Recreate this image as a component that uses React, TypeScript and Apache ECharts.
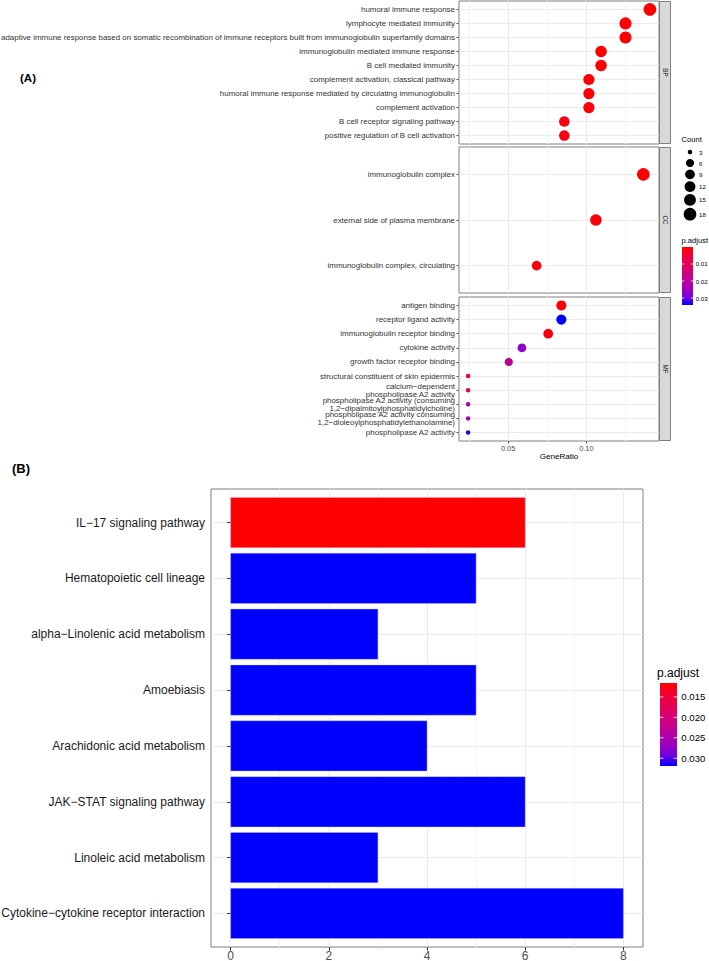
import React, { useEffect, useRef } from 'react';
import * as echarts from 'echarts';

// ---------------- DATA ----------------
const bpTerms = [
  'humoral immune response',
  'lymphocyte mediated immunity',
  'adaptive immune response based on somatic recombination of immune receptors built from immunoglobulin superfamily domains',
  'immunoglobulin mediated immune response',
  'B cell mediated immunity',
  'complement activation, classical pathway',
  'humoral immune response mediated by circulating immunoglobulin',
  'complement activation',
  'B cell receptor signaling pathway',
  'positive regulation of B cell activation',
];
const bpRatio = [0.1406, 0.125, 0.125, 0.1094, 0.1094, 0.1016, 0.1016, 0.1016, 0.0859, 0.0859];
const bpCount = [18, 16, 16, 14, 14, 13, 13, 13, 11, 11];
const bpPadj = [0.00001, 0.0002, 0.0002, 0.0004, 0.0004, 0.0006, 0.0006, 0.0007, 0.0015, 0.0018];

const ccTerms = ['immunoglobulin complex', 'external side of plasma membrane', 'immunoglobulin complex, circulating'];
const ccRatio = [0.1364, 0.1061, 0.0682];
const ccCount = [18, 14, 9];
const ccPadj = [0.00002, 0.0012, 0.0008];

const mfTerms = [
  'antigen binding',
  'receptor ligand activity',
  'immunoglobulin receptor binding',
  'cytokine activity',
  'growth factor receptor binding',
  'structural constituent of skin epidermis',
  'calcium\u2212dependent\nphospholipase A2 activity',
  'phospholipase A2 activity (consuming\n1,2\u2212dipalmitoylphosphatidylcholine)',
  'phospholipase A2 activity consuming\n1,2\u2212dioleoylphosphatidylethanolamine)',
  'phospholipase A2 activity',
];
const mfRatio = [0.084, 0.084, 0.0756, 0.0588, 0.0504, 0.0244, 0.0244, 0.0244, 0.0244, 0.0244];
const mfCount = [10, 10, 9, 7, 6, 3, 3, 3, 3, 3];
const mfPadj = [0.0005, 0.0341, 0.0015, 0.0266, 0.019, 0.009, 0.009, 0.023, 0.023, 0.0325];

const facetLabels = ['BP', 'CC', 'MF'];
const geneRatioTicks = [0.05, 0.1];
const geneRatioMinor = [0.025, 0.075, 0.125];
const countBreaks = [3, 6, 9, 12, 15, 18];
const pAdjTicksA = [0.01, 0.02, 0.03];

const keggTerms = [
  'IL\u221217 signaling pathway',
  'Hematopoietic cell lineage',
  'alpha\u2212Linolenic acid metabolism',
  'Amoebiasis',
  'Arachidonic acid metabolism',
  'JAK\u2212STAT signaling pathway',
  'Linoleic acid metabolism',
  'Cytokine\u2212cytokine receptor interaction',
];
const keggCount = [6, 5, 3, 5, 4, 6, 3, 8];
const keggPadj = [0.0116, 0.0319, 0.0319, 0.0319, 0.0319, 0.0319, 0.0319, 0.0319];
const keggTicks = [0, 2, 4, 6, 8];
const keggMinor = [1, 3, 5, 7];
const pAdjTicksB = [0.015, 0.02, 0.025, 0.03];

// ---------------- STYLE / LAYOUT ----------------
const FONT = '"Liberation Sans", Arial, Helvetica, sans-serif';
const PALETTE = ['#FF0000', '#F30031', '#E7004F', '#D9006C', '#C90088', '#B400A5', '#9900C2', '#7100E0', '#0000FF'];
const MAJOR = '#EBEBEB';
const MINOR = '#F4F4F4';
const BORDER = '#7f7f7f';
const A_LEFT = 459;
const A_WIDTH = 200;
const STRIP_W = 11;
const aLayout = [
  { top: 1, height: 143 },
  { top: 147, height: 146 },
  { top: 297, height: 144 },
];
const B_BOX = { left: 211, top: 489, width: 432, height: 458 };

const panels = [
  { terms: bpTerms, ratio: bpRatio, count: bpCount, padj: bpPadj },
  { terms: ccTerms, ratio: ccRatio, count: ccCount, padj: ccPadj },
  { terms: mfTerms, ratio: mfRatio, count: mfCount, padj: mfPadj },
];

function buildOption() {
  const allRatio = [...bpRatio, ...ccRatio, ...mfRatio];
  const allCount = [...bpCount, ...ccCount, ...mfCount];
  const allPadj = [...bpPadj, ...ccPadj, ...mfPadj];
  const rMin = Math.min(...allRatio);
  const rMax = Math.max(...allRatio);
  const rPad = (rMax - rMin) * 0.05;
  const aXMin = rMin - rPad;
  const aXMax = rMax + rPad;
  const cMin = Math.min(...allCount);
  const cMax = Math.max(...allCount);
  const sizeOf = (c: number) => 4.5 + 8.2 * Math.sqrt((c - cMin) / (cMax - cMin));
  const pMinA = Math.min(...allPadj);
  const pMaxA = Math.max(...allPadj);
  const pMinB = Math.min(...keggPadj);
  const pMaxB = Math.max(...keggPadj);
  const bMax = Math.max(...keggCount);

  const grids: any[] = aLayout.map((l) => ({
    left: A_LEFT, top: l.top, width: A_WIDTH, height: l.height,
    show: true, borderColor: BORDER, borderWidth: 1, backgroundColor: '#fff',
    containLabel: false, outerBoundsMode: 'none',
  }));
  grids.push({
    left: B_BOX.left, top: B_BOX.top, width: B_BOX.width, height: B_BOX.height,
    show: true, borderColor: BORDER, borderWidth: 1, backgroundColor: '#fff',
    containLabel: false, outerBoundsMode: 'none',
  });

  const aSplit = [...geneRatioTicks, ...geneRatioMinor].sort((a, b) => a - b);
  const xAxes: any[] = [];
  aLayout.forEach((_, i) => {
    xAxes.push({
      type: 'value', gridIndex: i, min: aXMin, max: aXMax, position: 'bottom',
      axisLine: { show: false },
      axisTick: { show: false, customValues: aSplit },
      splitLine: { show: true, lineStyle: { color: [MINOR, MAJOR], width: 1 } },
      axisLabel: {
        show: i === 2, customValues: geneRatioTicks, formatter: (v: number) => v.toFixed(2),
        fontSize: 7.4, color: '#4D4D4D', margin: 4, fontFamily: FONT,
      },
      name: i === 2 ? 'GeneRatio' : '', nameLocation: 'middle', nameGap: 11,
      nameTextStyle: { fontSize: 8.1, color: '#000', fontFamily: FONT, verticalAlign: 'top' },
    });
  });
  xAxes.push({
    type: 'value', gridIndex: 2, min: aXMin, max: aXMax, position: 'bottom', offset: 0,
    axisLine: { show: false },
    axisTick: { show: true, customValues: geneRatioTicks, length: 2.5, lineStyle: { color: '#333', width: 0.8 } },
    splitLine: { show: false }, axisLabel: { show: false },
  });
  const bSplit = [...keggTicks, ...keggMinor].sort((a, b) => a - b);
  xAxes.push({
    type: 'value', gridIndex: 3, min: -0.05 * bMax, max: bMax * 1.05, position: 'bottom',
    axisLine: { show: false },
    axisTick: { show: false, customValues: bSplit },
    splitLine: { show: true, lineStyle: { color: [MAJOR, MINOR], width: 1 } },
    axisLabel: { customValues: keggTicks, fontSize: 12, color: '#4D4D4D', margin: 3, fontFamily: FONT },
  });
  xAxes.push({
    type: 'value', gridIndex: 3, min: -0.05 * bMax, max: bMax * 1.05, position: 'bottom', offset: 0,
    axisLine: { show: false },
    axisTick: { show: true, customValues: keggTicks, length: 3.5, lineStyle: { color: '#333', width: 1 } },
    splitLine: { show: false }, axisLabel: { show: false },
  });

  const yAxes: any[] = panels.map((p, i) => {
    const idx = p.terms.map((_, j) => j);
    return {
      type: 'value', gridIndex: i, inverse: true, min: -0.6, max: p.terms.length - 0.4,
      axisLine: { show: false },
      axisTick: { show: true, customValues: idx, length: 2.5, lineStyle: { color: '#333', width: 0.8 } },
      axisLabel: {
        customValues: idx, formatter: (v: number) => p.terms[Math.round(v)] ?? '',
        fontSize: 7.95, color: '#333', margin: 4, lineHeight: 8.3, fontFamily: FONT, align: 'right',
      },
      splitLine: { show: true, lineStyle: { color: MAJOR, width: 1 } },
    };
  });
  const kIdx = keggTerms.map((_, j) => j);
  yAxes.push({
    type: 'value', gridIndex: 3, inverse: true, min: -0.6, max: keggTerms.length - 0.4,
    axisLine: { show: false },
    axisTick: { show: true, customValues: kIdx, length: 3.5, lineStyle: { color: '#333', width: 1 } },
    axisLabel: {
      customValues: kIdx, formatter: (v: number) => keggTerms[Math.round(v)] ?? '',
      fontSize: 12, color: '#1a1a1a', margin: 6, fontFamily: FONT,
    },
    splitLine: { show: true, lineStyle: { color: MAJOR, width: 1 } },
  });

  const series: any[] = panels.map((p, i) => ({
    type: 'scatter', xAxisIndex: i, yAxisIndex: i,
    data: p.ratio.map((r, j) => [r, j, p.padj[j], p.count[j]]),
    symbol: 'circle',
    symbolSize: (val: number[]) => sizeOf(val[3]),
    itemStyle: { opacity: 1 },
    z: 5,
  }));
  series.push({
    type: 'custom', xAxisIndex: 4, yAxisIndex: 3,
    data: keggCount.map((c, j) => [c, j, keggPadj[j]]),
    encode: { x: 0, y: 1 },
    renderItem: (params: any, api: any) => {
      const v = api.value(0);
      const idx = api.value(1);
      const start = api.coord([0, idx]);
      const end = api.coord([v, idx]);
      const h = Math.abs(api.size([0, 0.9])[1]);
      return {
        type: 'rect',
        shape: { x: start[0], y: start[1] - h / 2, width: end[0] - start[0], height: h },
        style: { fill: api.visual('color'), stroke: 'rgba(200,200,255,0.6)', lineWidth: 0.6 },
      };
    },
    z: 5,
  });

  const graphics: any[] = [];
  graphics.push({
    type: 'text', x: 20, y: 78,
    style: { text: '(A)', fontSize: 11.5, fontWeight: 'bold', fontFamily: FONT, fill: '#000', verticalAlign: 'middle' },
  });
  graphics.push({
    type: 'text', x: 12, y: 468,
    style: { text: '(B)', fontSize: 13, fontWeight: 'bold', fontFamily: FONT, fill: '#000', verticalAlign: 'middle' },
  });
  aLayout.forEach((l, i) => {
    graphics.push({
      type: 'rect',
      shape: { x: A_LEFT + A_WIDTH + 0.5, y: l.top + 0.5, width: STRIP_W, height: l.height - 1 },
      style: { fill: '#D9D9D9', stroke: BORDER, lineWidth: 1 },
    });
    graphics.push({
      type: 'text', x: A_LEFT + A_WIDTH + 0.5 + STRIP_W / 2, y: l.top + l.height / 2, rotation: -Math.PI / 2,
      style: { text: facetLabels[i], fontSize: 6.3, fontFamily: FONT, fill: '#1A1A1A', align: 'center', verticalAlign: 'middle' },
    });
  });

  // Count legend
  graphics.push({
    type: 'text', x: 681.5, y: 139,
    style: { text: 'Count', fontSize: 7.6, fontFamily: FONT, fill: '#000', verticalAlign: 'middle' },
  });
  const keyH = (c: number) => Math.max(11, sizeOf(c) + 2);
  let ky = 152;
  countBreaks.forEach((c, i) => {
    if (i > 0) ky += (keyH(countBreaks[i - 1]) + keyH(c)) / 2;
    graphics.push({ type: 'circle', shape: { cx: 690, cy: ky, r: sizeOf(c) / 2 }, style: { fill: '#000' } });
    graphics.push({
      type: 'text', x: 699, y: ky,
      style: { text: String(c), fontSize: 6.1, fontFamily: FONT, fill: '#000', verticalAlign: 'middle' },
    });
  });

  const gradient = () =>
    new echarts.graphic.LinearGradient(0, 0, 0, 1, PALETTE.map((c, i) => ({ offset: i / (PALETTE.length - 1), color: c })));

  const colorbar = (
    title: string, tx: number, ty: number, bx: number, by: number, bw: number, bh: number,
    ticks: number[], pMin: number, pMax: number, fmt: (v: number) => string, titleSize: number, labelSize: number,
  ) => {
    graphics.push({
      type: 'text', x: tx, y: ty,
      style: { text: title, fontSize: titleSize, fontFamily: FONT, fill: '#000', verticalAlign: 'middle' },
    });
    graphics.push({ type: 'rect', shape: { x: bx, y: by, width: bw, height: bh }, style: { fill: gradient() } });
    ticks.forEach((t) => {
      const y = by + ((t - pMin) / (pMax - pMin)) * bh;
      const tl = bw / 5;
      graphics.push({ type: 'line', shape: { x1: bx, y1: y, x2: bx + tl, y2: y }, style: { stroke: '#fff', lineWidth: 0.8 } });
      graphics.push({ type: 'line', shape: { x1: bx + bw - tl, y1: y, x2: bx + bw, y2: y }, style: { stroke: '#fff', lineWidth: 0.8 } });
      graphics.push({
        type: 'text', x: bx + bw + labelSize * 0.45, y,
        style: { text: fmt(t), fontSize: labelSize, fontFamily: FONT, fill: '#000', verticalAlign: 'middle' },
      });
    });
  };
  colorbar('p.adjust', 681.5, 240, 682, 247, 11, 58, pAdjTicksA, pMinA, pMaxA, (v) => String(v), 7.6, 6.1);
  colorbar('p.adjust', 657, 673, 660, 683, 17, 83, pAdjTicksB, pMinB, pMaxB, (v) => v.toFixed(3), 12, 9.6);

  return {
    animation: false,
    backgroundColor: '#fff',
    textStyle: { fontFamily: FONT },
    grid: grids,
    xAxis: xAxes,
    yAxis: yAxes,
    visualMap: [
      { type: 'continuous', show: false, seriesIndex: [0, 1, 2], dimension: 2, min: pMinA, max: pMaxA, inRange: { color: PALETTE } },
      { type: 'continuous', show: false, seriesIndex: [3], dimension: 2, min: pMinB, max: pMaxB, inRange: { color: PALETTE } },
    ],
    series,
    graphic: { elements: graphics },
  };
}

export default function App() {
  const ref = useRef<HTMLDivElement>(null);
  useEffect(() => {
    if (!ref.current) return;
    const chart = echarts.init(ref.current, null, { renderer: 'svg' });
    chart.setOption(buildOption() as any);
    return () => chart.dispose();
  }, []);
  return (
    <div
      ref={ref}
      style={{ position: 'absolute', left: 0, top: 0, width: 709, height: 961, background: '#fff' }}
    />
  );
}
